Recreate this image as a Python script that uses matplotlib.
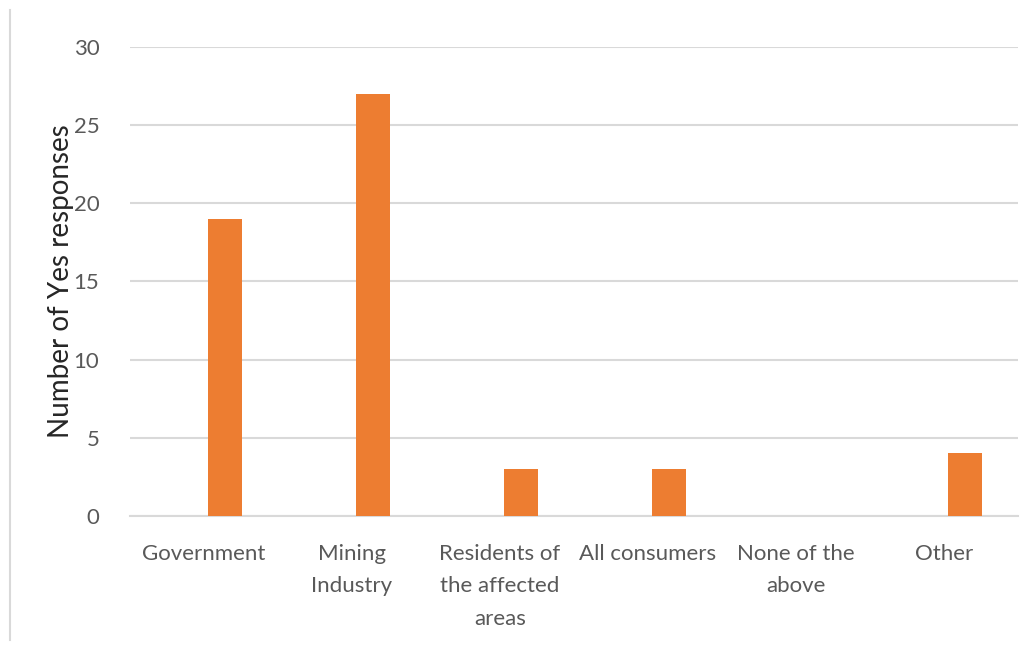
import matplotlib.pyplot as plt
import numpy as np
from matplotlib.lines import Line2D

categories = ["Government", "Mining\nIndustry", "Residents of\nthe affected\nareas",
              "All consumers", "None of the\nabove", "Other"]
yes_counts = [19, 27, 3, 3, 0, 4]
y_ticks = [0, 5, 10, 15, 20, 25, 30]

text_color = "#595959"
grid_color = "#D9D9D9"
bar_color = "#ED7D31"

plt.rcParams["font.family"] = ["Lato", "DejaVu Sans"]

fig = plt.figure(figsize=(10.34, 6.47), dpi=100)
ax = fig.add_axes([0.1257, 0.2025, 0.8588, 0.7249])

x = np.arange(len(categories))
bar_w = 0.225
ax.bar(x + 0.142, yes_counts, width=bar_w, color=bar_color, zorder=3)

ax.set_xlim(-0.5, len(categories) - 0.5)
ax.set_ylim(0, 30)
ax.set_yticks(y_ticks)
ax.set_yticklabels([str(t) for t in y_ticks])
ax.set_xticks(x)
ax.set_xticklabels(categories, linespacing=1.78)

ax.yaxis.grid(True, color=grid_color, linewidth=1.5, zorder=0)
ax.set_axisbelow(True)
for side in ["top", "right", "left"]:
    ax.spines[side].set_visible(False)
ax.spines["bottom"].set_color(grid_color)
ax.spines["bottom"].set_linewidth(1.5)

ax.tick_params(axis="both", length=0, labelsize=16, colors=text_color)
ax.tick_params(axis="y", pad=22)
ax.tick_params(axis="x", pad=20)

ax.set_ylabel("Number of Yes responses", fontsize=20, color="#262626", labelpad=0)

# thin frame line on the left edge of the chart area
fig.add_artist(Line2D([10 / 1034, 10 / 1034], [1 - 10 / 647, 1 - 640 / 647],
                      transform=fig.transFigure, color=grid_color, linewidth=1.5))

fig.savefig("out.png", dpi=100)
